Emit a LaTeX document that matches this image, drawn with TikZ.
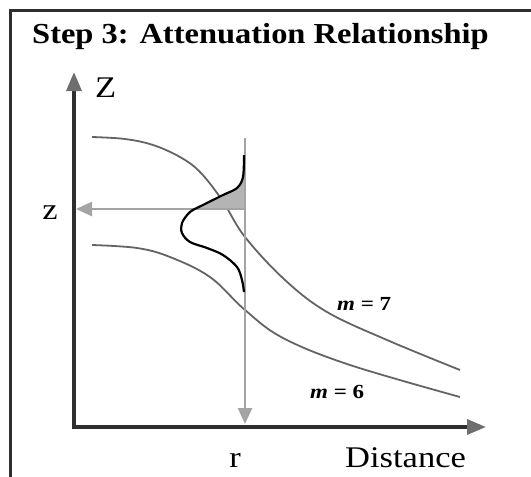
\documentclass[tikz,border=0pt]{standalone}
\usepackage{fontspec}
\setmainfont{Liberation Serif}[FakeStretch=1.15]
\newfontfamily\titlefont{Liberation Serif}[FakeStretch=1.12]
\usetikzlibrary{arrows.meta}
\definecolor{axiscol}{HTML}{2E2E2E}
\definecolor{headcol}{HTML}{6E6E6E}
\definecolor{guidecol}{HTML}{A4A4A4}
\definecolor{curvecol}{HTML}{646464}
\definecolor{shadecol}{HTML}{B4B4B4}
\tikzset{
  axisline/.style={draw=axiscol, line width=3.5pt,
    -{Triangle[length=19pt,width=15pt,color=headcol,fill=headcol]}},
  guideline/.style={draw=guidecol, line width=2.6pt,
    -{Triangle[length=16pt,width=14pt,color=guidecol,fill=guidecol]}},
  mcurve/.style={draw=curvecol, line width=1.8pt},
  gauss/.style={draw=black, line width=2.2pt},
  lbl/.style={inner sep=0pt, font=\fontsize{30}{30}\selectfont},
  mlbl/.style={inner sep=0pt, font=\fontsize{20}{20}\selectfont\bfseries},
  frameline/.style={draw=axiscol, line width=3pt}
}
\begin{document}
\begin{tikzpicture}[x=1pt,y=-1pt]
\useasboundingbox (0,0) rectangle (531,477);
% frame
\coordinate (fTL) at (10,10);
\coordinate (fTR) at (531,10);
\coordinate (fBL) at (10,477);
\draw[frameline] (fTR) -- (fTL) -- (fBL);
% title
\node[inner sep=0pt, anchor=base west, font=\fontsize{29}{29}\titlefont\bfseries] (title) at (32,43) {Step 3: Attenuation Relationship};
% m curves
\draw[mcurve] plot[smooth, tension=0.6] coordinates {(92,137) (125,139) (153,145) (180,157) (200,172) (222,200) (245,237) (285,280) (327,312) (387,340) (460,370)};
\draw[mcurve] plot[smooth, tension=0.6] coordinates {(92,245) (137,248) (170,257) (210,277) (245,310) (283,338) (350,365) (460,397)};
% shaded part of distribution
\begin{scope}
\clip (150,120) rectangle (246,209);
\fill[shadecol] (245,155) -- plot[smooth, tension=0.55] coordinates {(244,155) (243,177) (237,188) (223,195) (203,205) (190,212) (182,223) (182,233) (190,242) (207,248) (223,255) (237,267) (242,280) (244,292)} -- (245,292) -- cycle;
\end{scope}
% guide lines
\coordinate (rtop) at (245,138);
\coordinate (rbot) at (245,424);
\coordinate (zpt) at (245,209);
\coordinate (zax) at (76,209);
\draw[guideline] (rtop) -- (rbot);
\draw[guideline] (zpt) -- (zax);
% distribution curve
\draw[gauss] plot[smooth, tension=0.55] coordinates {(244,155) (243,177) (237,188) (223,195) (203,205) (190,212) (182,223) (182,233) (190,242) (207,248) (223,255) (237,267) (242,280) (244,292)};
% axes
\coordinate (O) at (74,427);
\coordinate (Ytop) at (74,72);
\coordinate (Xend) at (486,427);
\draw[axisline] (O) -- (Ytop);
\draw[axisline] ([xshift=-1.75pt]O) -- (Xend);
% labels
\node[lbl, anchor=base west] (Zlab) at (95,97) {Z};
\node[lbl, anchor=base] (zlab) at (50,219) {z};
\node[lbl, anchor=base] (rlab) at (235,467) {r};
\node[lbl, anchor=base west] (dist) at (345,467) {Distance};
\node[mlbl, anchor=base west] (m7) at (337,310) {\textit{m} = 7};
\node[mlbl, anchor=base west] (m6) at (310,398) {\textit{m} = 6};
\end{tikzpicture}
\end{document}
